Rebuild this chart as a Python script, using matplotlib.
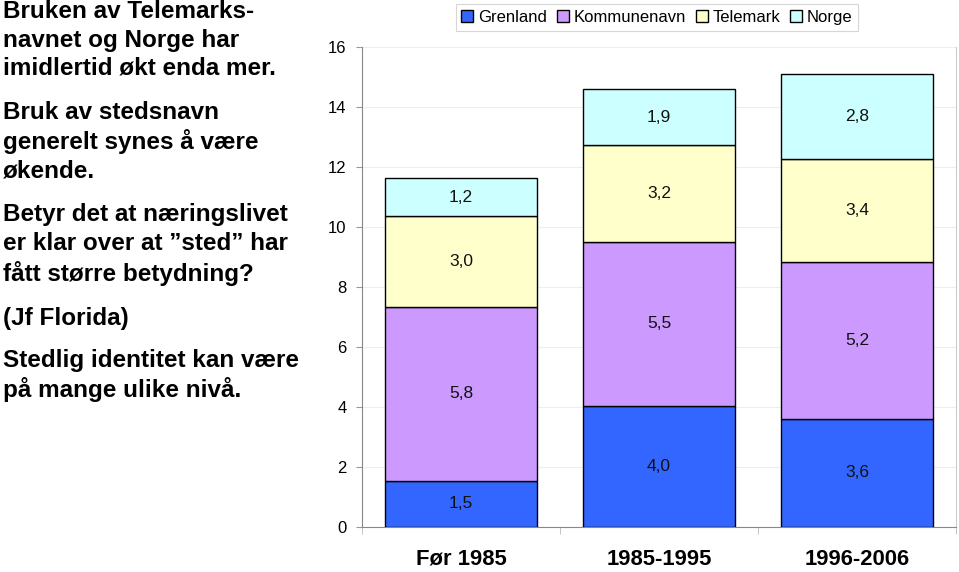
import matplotlib.pyplot as plt
import numpy as np

plt.rcParams['font.family'] = ['Liberation Sans', 'DejaVu Sans']

# data
periods = ['Før 1985', '1985-1995', '1996-2006']
series = ['Grenland', 'Kommunenavn', 'Telemark', 'Norge']
grenland = [1.53, 4.04, 3.59]
kommunenavn = [5.80, 5.46, 5.22]
telemark = [3.04, 3.22, 3.44]
norge = [1.24, 1.86, 2.84]
colors = ['#3366FF', '#CC99FF', '#FFFFCC', '#CCFFFF']

# left-hand text block, one entry per line with its vertical position (px from top)
text_lines = [
    ('Bruken av Telemarks-', 12),
    ('navnet og Norge har', 40),
    ('imidlertid økt enda mer.', 68),
    ('Bruk av stedsnavn', 113),
    ('generelt synes å være', 142),
    ('økende.', 171),
    ('Betyr det at næringslivet', 215),
    ('er klar over at ”sted” har', 244),
    ('fått større betydning?', 273),
    ('(Jf Florida)', 318),
    ('Stedlig identitet kan være', 361),
    ('på mange ulike nivå.', 390),
]

W, H = 959, 572
fig = plt.figure(figsize=(W / 100, H / 100), dpi=100)
ax = fig.add_axes([362 / W, 1 - 526.7 / H, (956 - 362) / W, (526.7 - 46.7) / H])

x = np.arange(len(periods))
width = 0.768
bottom = np.zeros(len(periods))
handles = []
for name, vals, col in zip(series, [grenland, kommunenavn, telemark, norge], colors):
    vals = np.array(vals)
    b = ax.bar(x, vals, width, bottom=bottom, color=col, edgecolor='black',
               linewidth=1.0, label=name, zorder=3)
    handles.append(b)
    for xi, v, bt in zip(x, vals, bottom):
        ax.text(xi, bt + v / 2, ('%.1f' % v).replace('.', ','), ha='center',
                va='center', fontsize=12.5, color='#111111', zorder=4)
    bottom += vals

ax.set_xlim(-0.5, 2.5)
ax.set_ylim(0, 16)
ax.set_yticks(range(0, 17, 2))
ax.yaxis.grid(True, color='#EEEEEE', linewidth=0.8, zorder=0)
ax.set_axisbelow(True)

ax.set_xticks(x)
ax.set_xticklabels(periods, fontsize=15.8, fontweight='bold')
ax.tick_params(axis='x', length=0, pad=16)
ax.set_xticks([-0.5, 0.5, 1.5, 2.5], minor=True)
ax.tick_params(axis='x', which='minor', length=5, color='#BBBBBB')
ax.tick_params(axis='y', labelsize=12, length=4, color='#999999', pad=7)

ax.spines['top'].set_visible(False)
ax.spines['left'].set_color('#888888')
ax.spines['bottom'].set_color('#888888')
ax.spines['right'].set_color('#CCCCCC')

leg = fig.legend(handles=handles, labels=series, loc='center',
                 bbox_to_anchor=(657 / W, 1 - 17.5 / H), ncol=4, fontsize=12,
                 frameon=True, fancybox=False, edgecolor='#CCCCCC',
                 handlelength=0.7, handleheight=0.7, handletextpad=0.3,
                 columnspacing=0.6, borderpad=0.35)
leg.get_frame().set_linewidth(0.8)

for line, ypx in text_lines:
    fig.text(3 / W, 1 - ypx / H, line, fontsize=17.5, fontweight='bold',
             ha='left', va='center')

fig.savefig('out.png', dpi=100)
